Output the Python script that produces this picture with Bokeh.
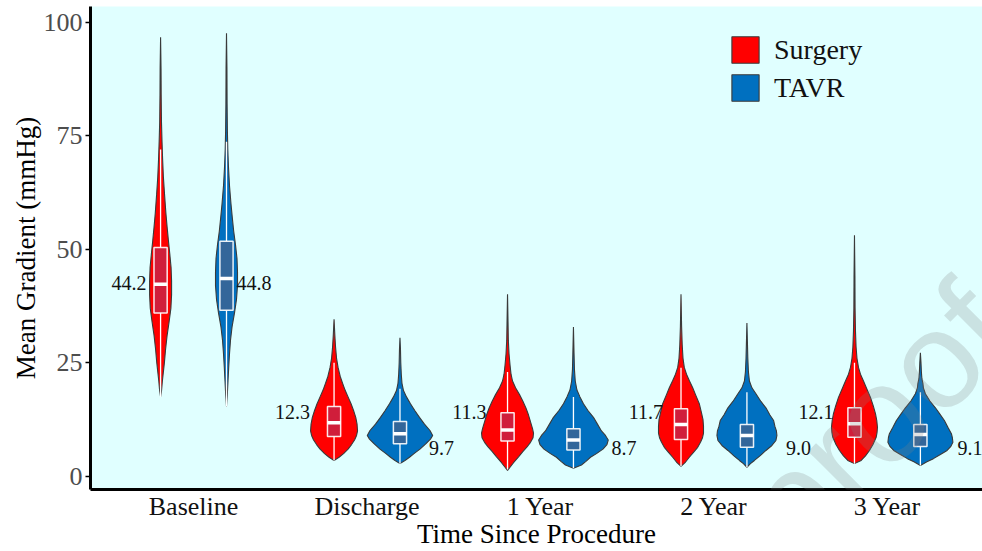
from bokeh.plotting import figure
from bokeh.models import Range1d, FixedTicker, Label, Legend, LegendItem
from bokeh.core.properties import value
from bokeh.embed import file_html
from bokeh.resources import INLINE

# ---- data -------------------------------------------------------------
timepoints = ["Baseline", "Discharge", "1 Year", "2 Year", "3 Year"]
groups = ["Surgery", "TAVR"]

surgery_mean = [44.2, 12.3, 11.3, 11.7, 12.1]
tavr_mean = [44.8, 9.7, 8.7, 9.0, 9.1]

surgery_q1 = [36.0, 8.8, 7.8, 8.1, 8.6]
surgery_median = [42.3, 11.8, 10.2, 11.4, 11.6]
surgery_q3 = [50.4, 15.4, 14.0, 14.9, 15.1]
surgery_whisker_low = [17.5, 3.5, 1.5, 2.2, 2.8]
surgery_whisker_high = [72.0, 25.0, 23.0, 23.9, 25.0]

tavr_q1 = [36.6, 7.2, 5.8, 6.4, 6.6]
tavr_median = [43.6, 9.4, 8.0, 9.0, 9.2]
tavr_q3 = [51.8, 12.1, 10.5, 11.4, 11.4]
tavr_whisker_low = [15.4, 2.8, 1.8, 2.0, 2.4]
tavr_whisker_high = [73.7, 19.3, 17.5, 18.5, 18.5]

# kernel density profiles (gradient level -> relative density)
surgery_baseline_y = [17.5, 19, 21, 23, 25, 28, 31, 34, 37, 40, 43, 46, 49, 52, 55, 58, 62, 66, 70, 74, 78, 84, 90, 96.7]
surgery_baseline_d = [0, 1.0, 1.8, 2.8, 3.8, 5.0, 6.5, 8.5, 10.3, 11.0, 11.0, 10.5, 9.2, 7.8, 6.5, 5.3, 4.0, 2.8, 2.0, 1.4, 0.9, 0.6, 0.45, 0]
tavr_baseline_y = [15.4, 18, 21, 24, 27, 30, 33, 36, 39, 42, 45, 48, 51, 54, 57, 60, 64, 68, 72, 76, 82, 90, 97.6]
tavr_baseline_d = [0, 0.8, 1.5, 2.2, 3.0, 4.0, 5.6, 8.0, 10.0, 11.0, 11.0, 10.5, 9.0, 7.2, 5.8, 4.5, 3.0, 2.0, 1.3, 0.9, 0.6, 0.45, 0]

surgery_discharge_y = [3.5, 4.2, 5.0, 6.0, 7.0, 8.0, 9.0, 10.0, 11.5, 13.0, 14.5, 16.0, 17.5, 19.0, 20.5, 22.0, 24.0, 26.0, 28.5, 31.0, 34.6]
surgery_discharge_d = [0, 5.0, 9.5, 14.0, 17.5, 20.5, 22.5, 23.5, 23.0, 21.7, 19.5, 17.0, 14.0, 11.0, 8.5, 6.2, 4.0, 2.5, 1.5, 0.8, 0]
tavr_discharge_y = [2.8, 3.5, 4.2, 5.0, 6.0, 7.2, 8.2, 9.0, 10.1, 11.5, 13.0, 14.5, 16.0, 17.5, 18.9, 20.5, 22.5, 25.0, 28.0, 30.5]
tavr_discharge_d = [0, 5.0, 9.5, 14.0, 20.0, 26.0, 30.5, 32.7, 30.0, 24.5, 19.5, 14.8, 10.5, 6.5, 3.5, 2.0, 1.3, 0.8, 0.5, 0]

surgery_1yr_y = [1.3, 2.0, 3.0, 4.3, 5.5, 6.5, 7.5, 8.5, 9.5, 10.5, 12.0, 13.5, 15.0, 16.5, 18.0, 19.5, 21.0, 22.5, 24.5, 27.0, 30.0, 34.0, 40.1]
surgery_1yr_d = [0, 2.5, 6.0, 11.0, 15.5, 19.5, 23.0, 25.5, 26.0, 25.0, 23.0, 21.0, 18.5, 15.5, 12.0, 8.0, 5.0, 3.5, 2.5, 1.5, 0.8, 0.5, 0]
tavr_1yr_y = [1.8, 2.5, 3.3, 4.2, 5.0, 6.0, 7.0, 8.0, 9.0, 10.0, 11.5, 13.0, 14.5, 16.0, 17.5, 19.0, 21.0, 23.5, 27.0, 32.9]
tavr_1yr_d = [0, 8.0, 12.5, 17.0, 23.0, 29.5, 33.5, 34.8, 32.0, 28.0, 24.0, 20.0, 14.5, 10.0, 6.5, 3.5, 1.8, 1.0, 0.6, 0]

surgery_2yr_y = [2.2, 3.0, 4.2, 5.3, 6.4, 7.5, 8.5, 9.5, 11.0, 12.5, 14.0, 16.0, 18.0, 19.5, 21.0, 22.5, 24.0, 26.0, 29.0, 33.0, 40.1]
surgery_2yr_d = [0, 4.0, 8.3, 12.5, 16.7, 19.5, 21.5, 22.5, 22.5, 22.0, 20.5, 18.3, 14.5, 11.7, 8.5, 5.5, 3.3, 2.0, 1.2, 0.6, 0]
tavr_2yr_y = [2.0, 2.8, 3.5, 4.5, 5.7, 6.8, 7.9, 9.0, 10.0, 11.0, 12.3, 13.5, 15.1, 16.5, 18.2, 19.5, 21.0, 23.0, 26.0, 29.5, 33.8]
tavr_2yr_d = [0, 3.5, 7.5, 13.0, 19.0, 25.0, 29.0, 30.0, 29.5, 28.0, 26.7, 23.0, 19.0, 14.0, 9.0, 5.0, 2.5, 1.5, 0.9, 0.5, 0]

surgery_3yr_y = [2.8, 3.5, 4.5, 5.7, 7.0, 8.6, 9.7, 10.8, 12.3, 13.8, 15.5, 17.4, 19.2, 21.0, 22.5, 24.0, 26.0, 28.5, 32.0, 37.0, 44.0, 53.1]
surgery_3yr_d = [0, 6.7, 11.0, 15.0, 18.5, 21.7, 22.6, 23.0, 22.3, 21.0, 18.8, 16.0, 12.5, 9.0, 6.0, 4.0, 2.5, 1.6, 1.0, 0.6, 0.45, 0]
tavr_3yr_y = [2.4, 3.2, 3.9, 4.8, 5.7, 6.6, 7.5, 8.5, 9.4, 10.8, 12.3, 13.7, 15.1, 16.6, 18.2, 19.5, 20.5, 21.5, 23.0, 25.0, 27.2]
tavr_3yr_d = [0, 6.5, 13.0, 20.0, 26.7, 30.5, 32.5, 32.0, 31.0, 27.5, 24.0, 19.5, 15.0, 9.5, 5.0, 3.0, 2.5, 1.5, 1.0, 0.6, 0]

surgery_profiles = [(surgery_baseline_y, surgery_baseline_d), (surgery_discharge_y, surgery_discharge_d),
                    (surgery_1yr_y, surgery_1yr_d), (surgery_2yr_y, surgery_2yr_d), (surgery_3yr_y, surgery_3yr_d)]
tavr_profiles = [(tavr_baseline_y, tavr_baseline_d), (tavr_discharge_y, tavr_discharge_d),
                 (tavr_1yr_y, tavr_1yr_d), (tavr_2yr_y, tavr_2yr_d), (tavr_3yr_y, tavr_3yr_d)]

# ---- styling / layout -----------------------------------------------------
SURGERY_COLOR = "#FF0000"
TAVR_COLOR = "#0070C0"
SURGERY_BOX = "#D01E3B"
TAVR_BOX = "#33669A"
OUTLINE = "#3A3A3A"
SERIF = "Liberation Serif"

DODGE = 0.19              # half distance between the paired violins
WIDTH_SCALE = 1 / 173.5   # x units per density unit
BOX_HALF = 0.038

# anchor heights for the mean labels
surgery_label_y = [42.7, 14.1, 14.1, 14.1, 14.1]
tavr_label_y = [42.7, 6.2, 6.2, 6.2, 6.2]
surgery_label_dx = [-14, -24, -21, -18, -21]
tavr_label_dx = [10, 29, 38, 39, 37]

p = figure(width=982, height=551, output_backend="svg", toolbar_location=None,
           x_range=Range1d(0.406, 5.548), y_range=Range1d(-2.9, 103.5),
           min_border_left=90, min_border_right=0, min_border_top=6, min_border_bottom=62,
           background_fill_color="#E0FFFF", border_fill_color="white")
p.outline_line_color = None
p.grid.visible = False

# watermark
p.add_layout(Label(x=5.576, y=37.2, text="Journal Pre-proof", angle=0.785, text_align="right",
                   text_baseline="alphabetic", text_font="Liberation Sans",
                   text_font_size="138px", text_color="#808080", text_alpha=0.23))


def violin_shapes(profiles, offset):
    xs, ys = [], []
    for i, (yy, dd) in enumerate(profiles):
        c = i + 1 + offset
        right = [c + d * WIDTH_SCALE for d in dd]
        left = [c - d * WIDTH_SCALE for d in dd][::-1]
        xs.append(right + left)
        ys.append(list(yy) + list(yy)[::-1])
    return xs, ys


renderers = {}
for name, profiles, off, col in [("Surgery", surgery_profiles, -DODGE, SURGERY_COLOR),
                                 ("TAVR", tavr_profiles, DODGE, TAVR_COLOR)]:
    xs, ys = violin_shapes(profiles, off)
    renderers[name] = p.patches(xs, ys, fill_color=col, line_color=OUTLINE, line_width=1.1)

for off, q1, med, q3, lo, hi, boxcol in [
        (-DODGE, surgery_q1, surgery_median, surgery_q3, surgery_whisker_low, surgery_whisker_high, SURGERY_BOX),
        (DODGE, tavr_q1, tavr_median, tavr_q3, tavr_whisker_low, tavr_whisker_high, TAVR_BOX)]:
    xc = [i + 1 + off for i in range(len(timepoints))]
    p.segment(x0=xc, y0=lo, x1=xc, y1=q1, line_color="white", line_width=1.3)
    p.segment(x0=xc, y0=q3, x1=xc, y1=hi, line_color="white", line_width=1.3)
    p.quad(left=[x - BOX_HALF for x in xc], right=[x + BOX_HALF for x in xc], bottom=q1, top=q3,
           fill_color=boxcol, line_color="white", line_width=1.5, line_alpha=0.9)
    p.segment(x0=[x - BOX_HALF for x in xc], y0=med, x1=[x + BOX_HALF for x in xc], y1=med,
              line_color="white", line_width=3.5)

# mean labels
p.text(x=[i + 1 - DODGE for i in range(5)], y=surgery_label_y, text=[f"{m:.1f}" for m in surgery_mean],
       x_offset=surgery_label_dx, text_align="right", text_baseline="middle",
       text_font=value(SERIF), text_font_size="20px", text_color="#111111")
p.text(x=[i + 1 + DODGE for i in range(5)], y=tavr_label_y, text=[f"{m:.1f}" for m in tavr_mean],
       x_offset=tavr_label_dx, text_align="left", text_baseline="middle",
       text_font=value(SERIF), text_font_size="20px", text_color="#111111")

# axes
p.xaxis.ticker = FixedTicker(ticks=[1, 2, 3, 4, 5])
p.xaxis.major_label_overrides = {i + 1: t for i, t in enumerate(timepoints)}
p.xaxis.axis_label = "Time Since Procedure"
p.yaxis.ticker = FixedTicker(ticks=[0, 25, 50, 75, 100])
p.yaxis.axis_label = "Mean Gradient (mmHg)"
for ax in (p.xaxis[0], p.yaxis[0]):
    ax.axis_line_color = "black"
    ax.axis_line_width = 3
    ax.minor_tick_line_color = None
    ax.minor_tick_out = 0
    ax.axis_label_text_font = SERIF
    ax.axis_label_text_font_style = "normal"
    ax.axis_label_text_font_size = "27px"
    ax.axis_label_text_color = "black"
    ax.major_label_text_font = SERIF
    ax.major_label_text_font_size = "26px"
    ax.axis_label_standoff = 0
p.xaxis.major_tick_line_color = None
p.xaxis.major_tick_out = 0
p.xaxis.major_tick_in = 0
p.xaxis.major_label_standoff = 2
p.xaxis.axis_label_standoff = -5
p.xaxis.major_label_text_color = "#111111"
p.yaxis.major_tick_line_color = "black"
p.yaxis.major_tick_line_width = 1.5
p.yaxis.major_tick_out = 5
p.yaxis.major_tick_in = 0
p.yaxis.major_label_standoff = 3
p.yaxis.major_label_text_color = "#4D4D4D"

legend = Legend(items=[LegendItem(label=g, renderers=[renderers[g]]) for g in groups],
                location=(638, 385), orientation="vertical",
                glyph_width=34, glyph_height=33, label_standoff=12, spacing=5,
                label_text_font=SERIF, label_text_font_size="28px", label_text_color="#111111",
                padding=0, margin=0, border_line_color=None, background_fill_alpha=0)
p.add_layout(legend)

open("out.html", "w").write(file_html(p, INLINE))
